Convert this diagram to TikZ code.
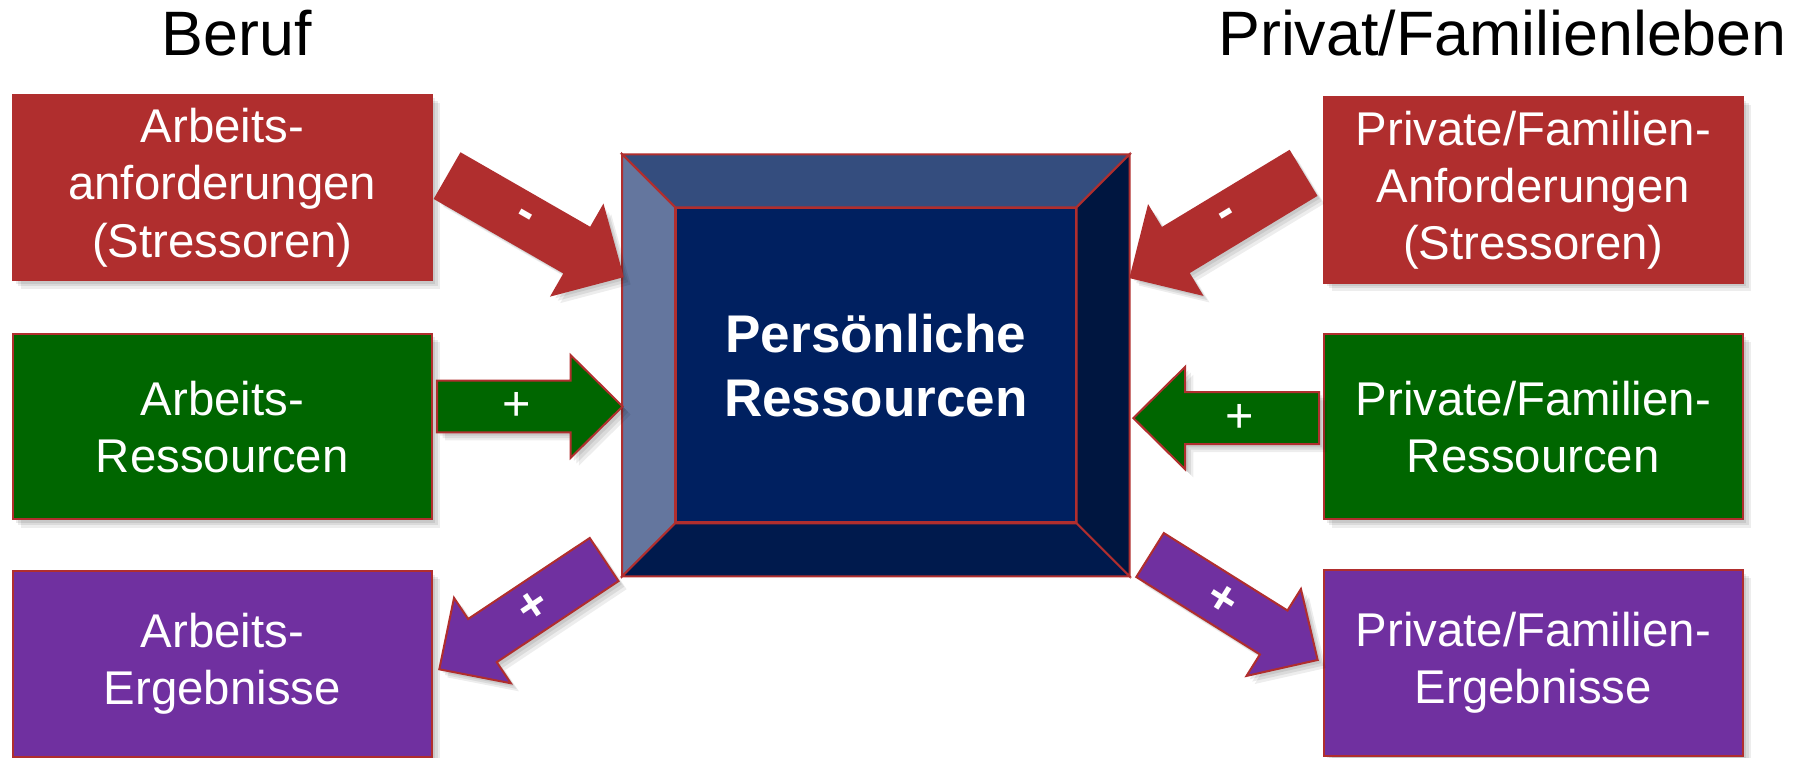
\documentclass[tikz,border=0pt]{standalone}
\usepackage{fontspec}
\setmainfont{Liberation Sans}
\usepackage{tikz}
\usetikzlibrary{calc,shadows,backgrounds}

\definecolor{boxred}{RGB}{176,46,46}
\definecolor{boxgreen}{RGB}{0,102,0}
\definecolor{boxpurple}{RGB}{112,48,160}
\definecolor{corefill}{RGB}{0,32,96}
\definecolor{beveltop}{RGB}{52,77,126}
\definecolor{bevelleft}{RGB}{100,118,158}
\definecolor{bevelright}{RGB}{0,22,64}
\definecolor{bevelbottom}{RGB}{0,26,77}

\tikzset{
    softshadow/.style={drop shadow={shadow xshift=2pt,shadow yshift=-2pt,opacity=0.07,fill=black},
                       drop shadow={shadow xshift=1.4pt,shadow yshift=-1.4pt,opacity=0.08,fill=black},
                       drop shadow={shadow xshift=0.8pt,shadow yshift=-0.8pt,opacity=0.08,fill=black}},
    box/.style={draw=boxred,line width=0.5pt,minimum width=3.64cm,minimum height=1.61cm,
                inner sep=0pt,align=center,text=white,
                font=\fontsize{11.7}{14.1}\selectfont,softshadow},
    title/.style={anchor=base,inner sep=0pt,font=\fontsize{15.5}{18}\selectfont},
    core/.style={draw=boxred,line width=0.5pt,fill=corefill,minimum width=3.467cm,
                 minimum height=2.726cm,inner sep=0pt,align=center,text=white,
                 font=\bfseries\fontsize{13.1}{15.8}\selectfont},
    bevel/.style={draw=boxred,line width=0.5pt,line join=miter},
    arrowbody/.style={draw=boxred,line width=0.5pt,softshadow},
    sign/.style={text=white,inner sep=0pt,sloped,font=\fontsize{12}{14}\selectfont}
}

% block arrow: fill colour, tail, tip, sign
\newcommand\blockarrow[4]{%
    \coordinate (hb) at ($(#3)!0.45cm!(#2)$);
    \filldraw[arrowbody,fill=#1]
        ($(#2)!0.225cm!90:(#3)$) -- ($(hb)!0.225cm!90:(#3)$) -- ($(hb)!0.445cm!90:(#3)$) -- (#3)
        -- ($(hb)!0.445cm!-90:(#3)$) -- ($(hb)!0.225cm!-90:(#3)$) -- ($(#2)!0.225cm!-90:(#3)$) -- cycle;
    \path (#2) -- (#3) node[sign,pos=0.43] {#4};
}

\begin{document}
\begin{tikzpicture}
        \useasboundingbox[fill=white] (0,0) rectangle (15.68,6.58);

        \node[title] (beruf)  at (2.055,6.094) {Beruf};
        \node[title] (privat) at (13.045,6.094) {Privat/Familienleben};

        % Beruf
        \node[box,fill=boxred]    (anf) at (1.93,4.95)  {Arbeits-\\anforderungen\\(Stressoren)};
        \node[box,fill=boxgreen]  (res) at (1.93,2.875) {Arbeits-\\Ressourcen};
        \node[box,fill=boxpurple] (erg) at (1.93,0.815) {Arbeits-\\Ergebnisse};

        % Privat
        \node[box,fill=boxred]    (panf) at (13.3125,4.93)  {Private/Familien-\\Anforderungen\\(Stressoren)};
        \node[box,fill=boxgreen]  (pres) at (13.3125,2.875) {Private/Familien-\\Ressourcen};
        \node[box,fill=boxpurple] (perg) at (13.3125,0.823) {Private/Familien-\\Ergebnisse};

        % persoenliche Ressourcen with bevel frame
        \node[core] (pr) at (7.6045,3.408) {Persönliche\\Ressourcen};
        \coordinate (onw) at ([shift={(-0.46,0.46)}]pr.north west);
        \coordinate (one) at ([shift={(0.46,0.46)}]pr.north east);
        \coordinate (osw) at ([shift={(-0.46,-0.46)}]pr.south west);
        \coordinate (ose) at ([shift={(0.46,-0.46)}]pr.south east);
        \filldraw[bevel,fill=beveltop]    (onw) -- (one) -- (pr.north east) -- (pr.north west) -- cycle;
        \filldraw[bevel,fill=bevelleft]   (onw) -- (pr.north west) -- (pr.south west) -- (osw) -- cycle;
        \filldraw[bevel,fill=bevelright]  (one) -- (ose) -- (pr.south east) -- (pr.north east) -- cycle;
        \filldraw[bevel,fill=bevelbottom] (osw) -- (pr.south west) -- (pr.south east) -- (ose) -- cycle;
        \begin{pgfonlayer}{background}
            \path[softshadow] (onw) rectangle (ose);
        \end{pgfonlayer}

        % arrow ends
        \coordinate (a1s) at (3.889,5.051);  \coordinate (a1e) at (5.405,4.18);
        \coordinate (a2s) at (3.794,3.051);  \coordinate (a2e) at (5.405,3.051);
        \coordinate (a3s) at (5.245,1.722);  \coordinate (a3e) at (3.814,0.769);
        \coordinate (a4s) at (9.985,1.761);  \coordinate (a4e) at (11.44,0.85);
        \coordinate (a5s) at (11.31,5.075);  \coordinate (a5e) at (9.816,4.172);
        \coordinate (a6s) at (11.452,2.95);  \coordinate (a6e) at (9.84,2.95);

        \blockarrow{boxred}{a1s}{a1e}{\bfseries -}
        \blockarrow{boxgreen}{a2s}{a2e}{+}
        \blockarrow{boxpurple}{a3s}{a3e}{\bfseries +}
        \blockarrow{boxpurple}{a4s}{a4e}{\bfseries +}
        \blockarrow{boxred}{a5s}{a5e}{\bfseries -}
        \blockarrow{boxgreen}{a6s}{a6e}{+}
    \end{tikzpicture}
\end{document}
